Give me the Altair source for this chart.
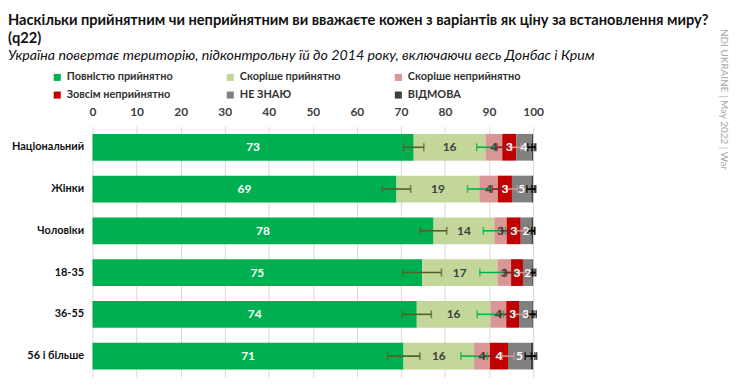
import altair as alt
import pandas as pd

groups = ["Національний", "Жінки", "Чоловіки", "18-35", "36-55", "56 і більше"]
series = ["Повністю прийнятно", "Скоріше прийнятно", "Скоріше неприйнятно",
          "Зовсім неприйнятно", "НЕ ЗНАЮ", "ВІДМОВА"]
colors = ["#00B050", "#C4D79B", "#D99694", "#C00000", "#808080", "#404040"]
label_colors = ["#FFFFFF", "#404040", "#404040", "#FFFFFF", "#FFFFFF", "#404040"]
err_colors = ["#4F6228", "#00B050", "#8B1A1A", "#D99694", "#000000", "#000000"]

fully = [72.9, 69.0, 77.4, 74.8, 73.6, 70.6]
rather = [16.3, 18.8, 13.8, 17.1, 16.7, 16.0]
rather_not = [3.8, 4.2, 2.8, 3.1, 3.6, 3.6]
not_at_all = [3.2, 3.2, 3.2, 2.7, 2.9, 4.1]
dont_know = [3.5, 4.4, 2.4, 2.1, 3.0, 5.2]
refused = [0.3, 0.4, 0.4, 0.2, 0.2, 0.5]

labels_fully = ["73", "69", "78", "75", "74", "71"]
labels_rather = ["16", "19", "14", "17", "16", "16"]
labels_rather_not = ["4", "4", "3", "3", "4", "4"]
labels_not_at_all = ["3", "3", "3", "3", "3", "4"]
labels_dont_know = ["4", "5", "2", "2", "3", "5"]
labels_refused = ["", "", "", "", "", ""]

err_fully = [2.3, 3.2, 3.0, 4.4, 3.3, 3.7]
err_rather = [2.0, 2.7, 2.5, 4.0, 3.0, 3.0]
err_rather_not = [1.2, 1.3, 1.1, 1.5, 1.3, 1.4]
err_not_at_all = [1.1, 1.2, 1.0, 1.3, 1.2, 1.4]
err_dont_know = [0.9, 1.0, 0.8, 0.8, 0.9, 1.3]
err_refused = [0.3, 0.3, 0.3, 0.2, 0.2, 0.4]

values = [fully, rather, rather_not, not_at_all, dont_know, refused]
labels = [labels_fully, labels_rather, labels_rather_not, labels_not_at_all,
          labels_dont_know, labels_refused]
errs = [err_fully, err_rather, err_rather_not, err_not_at_all, err_dont_know, err_refused]

rows = []
for gi, g in enumerate(groups):
    cum = 0.0
    for si, s in enumerate(series):
        v = values[si][gi]
        start, end = cum, cum + v
        cum = end
        rows.append({
            "group": g, "series": s, "order": si, "start": start, "end": end,
            "mid": (start + end) / 2, "label": labels[si][gi],
            "lcolor": label_colors[si], "ecolor": err_colors[si],
            "elo": end - errs[si][gi], "ehi": min(end + errs[si][gi], 101.5),
        })
df = pd.DataFrame(rows)

FONT = "Lato"
yenc = alt.Y("group:N", sort=groups, title=None,
             scale=alt.Scale(paddingInner=0.36, paddingOuter=0.18))

bars = alt.Chart(df).mark_bar().encode(
    x=alt.X("start:Q", scale=alt.Scale(domain=[0, 100], nice=False),
            axis=alt.Axis(orient="top", values=list(range(0, 101, 10)), title=None,
                          ticks=False, domain=False, labelPadding=8, labelFlush=False,
                          labelFont=FONT, labelFontSize=12, labelFontWeight="bold",
                          labelColor="#404040", gridColor="#D9D9D9", gridWidth=1)),
    x2="end:Q",
    y=yenc,
    color=alt.Color("series:N", sort=series,
                    scale=alt.Scale(domain=series, range=colors),
                    legend=alt.Legend(title=None, orient="none", legendX=-41, legendY=-55,
                                      direction="horizontal", columns=3, columnPadding=52,
                                      rowPadding=6, symbolType="square", symbolSize=50,
                                      symbolStrokeWidth=0, labelFont=FONT, labelFontSize=11,
                                      labelFontWeight="bold", labelColor="#333333",
                                      labelLimit=200)),
    order=alt.Order("order:Q"),
)

err_rule = alt.Chart(df).mark_rule(strokeWidth=1.6).encode(
    x="elo:Q", x2="ehi:Q", y=yenc,
    color=alt.Color("ecolor:N", scale=None, legend=None),
)
cap_lo = alt.Chart(df).mark_tick(orient="vertical", size=8, thickness=1.6).encode(
    x="elo:Q", y=yenc, color=alt.Color("ecolor:N", scale=None, legend=None),
)
cap_hi = alt.Chart(df).mark_tick(orient="vertical", size=8, thickness=1.6).encode(
    x="ehi:Q", y=yenc, color=alt.Color("ecolor:N", scale=None, legend=None),
)

text = alt.Chart(df).mark_text(font=FONT, fontSize=12, fontWeight="bold").encode(
    x="mid:Q", y=yenc, text="label:N",
    color=alt.Color("lcolor:N", scale=None, legend=None),
)

side = alt.Chart(pd.DataFrame({"t": ["NDI UKRAINE | May 2022 | War"]})).mark_text(
    angle=90, align="left", baseline="middle", font=FONT, fontSize=10, color="#A6A6A6"
).encode(x=alt.value(635), y=alt.value(-98), text="t:N")

chart = alt.layer(bars, err_rule, cap_lo, cap_hi, text, side).properties(
    width=443, height=252,
    autosize="none",
    padding={"left": 85, "top": 118, "right": 200, "bottom": 6},
    title=alt.TitleParams(
        text=["Наскільки прийнятним чи неприйнятним ви вважаєте кожен з варіантів як ціну за встановлення миру?", "(q22)"],
        subtitle="Україна повертає територію, підконтрольну їй до 2014 року, включаючи весь Донбас і Крим",
        anchor="start", frame="group", dx=-85, dy=45, offset=10,
        font=FONT, fontSize=14.7, fontWeight="bold", color="#111111", lineHeight=18,
        subtitleFont=FONT, subtitleFontSize=14.3, subtitleFontStyle="italic",
        subtitleColor="#111111", subtitlePadding=4,
    ),
).configure_view(stroke=None).configure_axisY(
    labelFont=FONT, labelFontSize=11, labelFontWeight="bold", labelColor="#111111",
    labelPadding=9, ticks=False, domain=False, grid=False,
)

chart.save("out.html", embed_options={"renderer": "svg", "actions": False})
